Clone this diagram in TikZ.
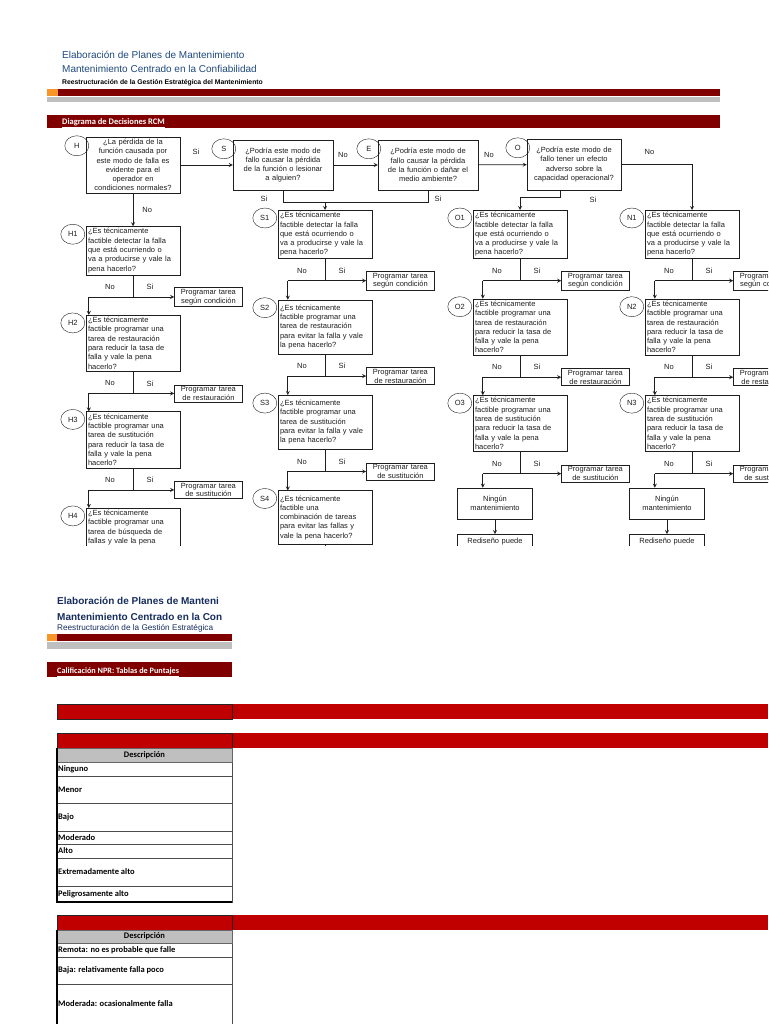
\documentclass[tikz,border=0pt]{standalone}
\usepackage{fontspec}
\setmainfont{Liberation Sans}
\newfontfamily\calibri{Carlito}
\usepackage{tikz}
\usetikzlibrary{arrows,positioning,shapes.geometric}

\definecolor{maroonbar}{RGB}{128,0,0}
\definecolor{redbar}{RGB}{192,0,0}
\definecolor{orangetab}{RGB}{247,150,40}
\definecolor{graybar}{RGB}{191,191,191}
\definecolor{titleblue}{RGB}{31,73,125}
\definecolor{navy}{RGB}{23,45,95}
\definecolor{scan}{RGB}{30,30,30}

\begin{document}
\begin{tikzpicture}[
  x=1pt, y=-1pt,
  >=stealth,
  qbox/.style={draw=scan, rectangle, text width=90pt, inner xsep=2pt, inner ysep=2pt,
    font=\fontsize{7.5}{9.3}\selectfont, align=left, text=scan},
  tbox/.style={qbox, align=center, text width=96pt},
  tag/.style={ellipse, draw=scan, minimum width=24pt, minimum height=20pt, inner sep=0pt,
    font=\fontsize{7.5}{8}\selectfont, text=scan},
  task/.style={draw=scan, rectangle, text width=62pt, align=center, inner xsep=3pt, inner ysep=1.5pt,
    font=\fontsize{7.5}{8.8}\selectfont, text=scan},
  endbox/.style={task, text width=69pt},
  lbl/.style={font=\fontsize{7.5}{9}\selectfont, text=scan, inner sep=1pt},
  link/.style={draw=scan, line width=0.8pt},
  head/.style={anchor=base west, inner sep=0pt},
  row/.style={anchor=west, inner sep=0pt, font=\calibri\bfseries\fontsize{8.5}{10}\selectfont},
  node distance=40pt
]
\useasboundingbox (0,0) rectangle (768,1024);
\fill[white] (0,0) rectangle (768,1024);

% sheet header
\node[head, text=titleblue, font=\fontsize{10}{12}\selectfont] (t1) at (62,59) {Elaboración de Planes de Mantenimiento};
\node[head, text=titleblue, font=\fontsize{10}{12}\selectfont] (t2) at (62,73) {Mantenimiento Centrado en la Confiabilidad};
\node[head, text=black, font=\bfseries\fontsize{6.8}{8}\selectfont] (t3) at (62,85) {Reestructuración de la Gestión Estratégica del Mantenimiento};
\fill[orangetab] (47,89) rectangle (58,96);
\fill[maroonbar] (58,89) rectangle (720,96);
\fill[graybar] (47,97) rectangle (720,102);
\fill[maroonbar] (47,115) rectangle (720,128);
\node[head, text=white, font=\calibri\bfseries\fontsize{8.5}{10}\selectfont] (t4) at (62,124.5) {\underline{Diagrama de Decisiones RCM}};

% decision diagram
\begin{scope}
\clip (0,129) rectangle (768,545.5);

\node[tbox, text width=90pt, minimum height=56pt] (h) at (133,165) {¿La pérdida de la\\función causada por\\este modo de falla es\\evidente para el\\operador en\\condiciones normales?};
\node[tbox, minimum height=50pt] (s) at (283,165) {¿Podría este modo de\\fallo causar la pérdida\\de la función o lesionar\\a alguien?};
\node[tbox, minimum height=50pt] (e) at (428,165) {¿Podría este modo de\\fallo causar la pérdida\\de la función o dañar el\\medio ambiente?};
\node[tbox, text width=90pt, minimum height=51pt] (o) at (574,164.5) {¿Podría este modo de\\fallo tener un efecto\\adverso sobre la\\capacidad operacional?};

\node[qbox, below=33pt of h] (h1) {¿Es técnicamente\\factible detectar la falla\\que está ocurriendo o\\va a producirse y vale la\\pena hacerlo?};
\node[qbox, below=of h1] (h2) {¿Es técnicamente\\factible programar una\\tarea de restauración\\para reducir la tasa de\\falla y vale la pena\\hacerlo?};
\node[qbox, below=of h2] (h3) {¿Es técnicamente\\factible programar una\\tarea de sustitución\\para reducir la tasa de\\falla y vale la pena\\hacerlo?};
\node[qbox, below=of h3] (h4) {¿Es técnicamente\\factible programar una\\tarea de búsqueda de\\fallas y vale la pena\\hacerlo?};

\node[qbox, anchor=north] (s1) at (325,210) {¿Es técnicamente\\factible detectar la falla\\que está ocurriendo o\\va a producirse y vale la\\pena hacerlo?};
\node[qbox, below=41pt of s1, minimum height=54pt] (s2) {¿Es técnicamente\\factible programar una\\tarea de restauración\\para evitar la falla y vale\\la pena hacerlo?};
\node[qbox, below=41pt of s2, minimum height=54pt] (s3) {¿Es técnicamente\\factible programar una\\tarea de sustitución\\para evitar la falla y vale\\la pena hacerlo?};
\node[qbox, below=41pt of s3, minimum height=54pt] (s4) {¿Es técnicamente\\factible una\\combinación de tareas\\para evitar las fallas y\\vale la pena hacerlo?};

\node[qbox, anchor=north] (o1) at (520,210) {¿Es técnicamente\\factible detectar la falla\\que está ocurriendo o\\va a producirse y vale la\\pena hacerlo?};
\node[qbox, below=of o1] (o2) {¿Es técnicamente\\factible programar una\\tarea de restauración\\para reducir la tasa de\\falla y vale la pena\\hacerlo?};
\node[qbox, below=of o2] (o3) {¿Es técnicamente\\factible programar una\\tarea de sustitución\\para reducir la tasa de\\falla y vale la pena\\hacerlo?};
\node[endbox, anchor=north, minimum height=31pt] (o4) at ([xshift=-25pt,yshift=-36pt]o3.south) {Ningún\\mantenimiento};
\node[endbox, below=15pt of o4, inner ysep=4pt] (o5) {Rediseño puede};

\node[qbox, anchor=north] (n1) at (692,210) {¿Es técnicamente\\factible detectar la falla\\que está ocurriendo o\\va a producirse y vale la\\pena hacerlo?};
\node[qbox, below=of n1] (n2) {¿Es técnicamente\\factible programar una\\tarea de restauración\\para reducir la tasa de\\falla y vale la pena\\hacerlo?};
\node[qbox, below=of n2] (n3) {¿Es técnicamente\\factible programar una\\tarea de sustitución\\para reducir la tasa de\\falla y vale la pena\\hacerlo?};
\node[endbox, anchor=north, minimum height=31pt] (n4) at ([xshift=-25pt,yshift=-36pt]n3.south) {Ningún\\mantenimiento};
\node[endbox, below=15pt of n4, inner ysep=4pt] (n5) {Rediseño puede};

% tags
\foreach \q/\t in {h/H, s/S, e/E, o/O}
  \node[tag] (c\q) at ([xshift=-9pt,yshift=-9pt]\q.north west) {\t};
\foreach \q/\t in {h1/H1, h2/H2, h3/H3, h4/H4, s1/S1, s2/S2, s3/S3, s4/S4,
                   o1/O1, o2/O2, o3/O3, n1/N1, n2/N2, n3/N3}
  \node[tag] (c\q) at ([xshift=-13pt,yshift=-8pt]\q.north west) {\t};

% top row
\draw[link,->] (h) -- (s) node[lbl, pos=0.3, above=9pt] (si0) {Si};
\draw[link,->] (s) -- (e) node[lbl, pos=0.22, above=6pt] (no0) {No};
\draw[link,->] (e) -- (o) node[lbl, pos=0.22, above=6pt] (no1) {No};
\draw[link,->] (o.east) -| (n1.north) node[lbl, pos=0.2, above=9pt] (no2) {No};
\draw[link,->] (h) -- (h1) node[lbl, midway, right=8pt] (no3) {No};
\draw[link] (s.south) -- ++(0,-12pt) coordinate (sj) -| (e.south);
\draw[link,->] (sj -| s1.north) -- (s1.north);
\node[lbl] (si1) at ([xshift=-19pt,yshift=-9pt]s.south) {Si};
\node[lbl] (si2) at ([xshift=10pt,yshift=-9pt]e.south) {Si};
\draw[link,->] ([xshift=-14pt]o.south) -- ++(0,-7pt) -| (o1.north);
\node[lbl] (si3) at ([xshift=19pt,yshift=-10pt]o.south) {Si};

% No / Si branches
\foreach \q/\nx/\dx/\job in {h1/h2/3/según condición, h2/h3/3/de restauración, h3/h4/3/de sustitución,
    s1/s2/10/según condición, s2/s3/10/de restauración, s3/s4/10/de sustitución,
    o1/o2/10/según condición, o2/o3/10/de restauración, o3/o4/10/de sustitución,
    n1/n2/10/según condición, n2/n3/10/de restauración, n3/n4/10/de sustitución}{
  \path (\q.south) ++(0,-22pt) coordinate (j\q);
  \path (\q.west |- j\q) ++(\dx,0) coordinate (k\q);
  \path (\q.east |- j\q) ++(-6,0) coordinate (m\q);
  \node[task, anchor=west] (p\q) at (m\q) {Programar tarea\\\job};
  \draw[link] (\q.south) -- (j\q);
  \draw[link,->] (k\q) -- (p\q);
  \draw[link,->] (k\q) -- (k\q |- \nx.north);
  \node[lbl] (no\q) at ([xshift=-23pt,yshift=10pt]j\q) {No};
  \node[lbl] (si\q) at ([xshift=17pt,yshift=10pt]j\q) {Si};
}
\draw[link,->] (o4) -- (o5);
\draw[link,->] (n4) -- (n5);
\draw[link] (s4.south) -- ++(0,-12pt);
\end{scope}

% second sheet: scores
\begin{scope}
\clip (0,580) rectangle (232,700);
\node[head, text=navy, font=\bfseries\fontsize{10}{12}\selectfont] (b1) at (57,604) {Elaboración de Planes de Manteni};
\node[head, text=navy, font=\bfseries\fontsize{10}{12}\selectfont] (b2) at (57,620) {Mantenimiento Centrado en la Con};
\node[head, text=navy, font=\fontsize{8.2}{10}\selectfont] (b3) at (57,630.5) {Reestructuración de la Gestión Estratégica};
\fill[orangetab] (47,634) rectangle (57,641);
\fill[maroonbar] (57,634) rectangle (232,641);
\fill[graybar] (47,642) rectangle (232,649);
\fill[maroonbar] (47,662) rectangle (232,677);
\node[head, text=white, font=\calibri\bfseries\fontsize{8.2}{10}\selectfont] (b4) at (57,673) {\underline{Calificación NPR: Tablas de Puntajes}};
\end{scope}

\foreach \y in {704,733,915}{
  \fill[redbar] (57,\y) rectangle (768,\y+15);
  \draw[black!85, line width=0.9pt] (57,\y) rectangle (232,\y+15);
}

% table 1
\fill[graybar] (57,748) rectangle (232,762);
\node[font=\calibri\bfseries\fontsize{8.5}{10}\selectfont, inner sep=0pt] (d1) at (144.5,755) {Descripción};
\foreach \ya/\yb/\yt/\txt in {762/776/769/Ninguno, 776/803/789.5/Menor, 803/831/817/Bajo,
    831/844/837.5/Moderado, 844/858/851/Alto, 858/886/872/Extremadamente alto,
    886/902/894/Peligrosamente alto}{
  \draw[black!70, line width=0.7pt] (57,\ya) rectangle (232,\yb);
  \node[row] (r\ya) at (58,\yt) {\txt};
}
\draw[black!60, line width=0.6pt] (57,748) rectangle (232,762);
\draw[black, line width=1.3pt] (57,748) -- (57,902) -- (232,902);

% table 2
\fill[graybar] (57,930) rectangle (232,943);
\node[font=\calibri\bfseries\fontsize{8.5}{10}\selectfont, inner sep=0pt] (d2) at (144.5,936.5) {Descripción};
\foreach \ya/\yb/\yt/\txt in {943/957/950/Remota: no es probable que falle,
    957/984/970.5/Baja: relativamente falla poco, 984/1030/1004/Moderada: ocasionalmente falla}{
  \draw[black!70, line width=0.7pt] (57,\ya) rectangle (232,\yb);
  \node[row] (r\ya) at (58,\yt) {\txt};
}
\draw[black!60, line width=0.6pt] (57,930) rectangle (232,943);
\draw[black, line width=1.3pt] (57,930) -- (57,1030);
\end{tikzpicture}
\end{document}
